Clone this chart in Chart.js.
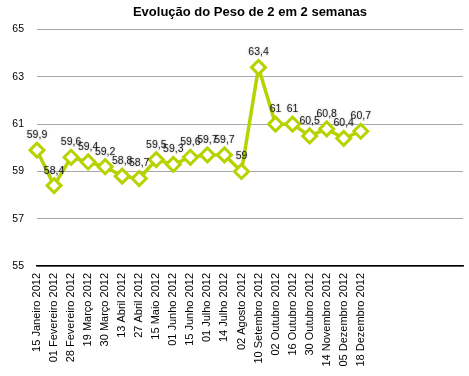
<!DOCTYPE html>
<html>
<head>
<meta charset="utf-8">
<script src="https://cdn.jsdelivr.net/npm/chart.js@4/dist/chart.umd.min.js"></script>
<style>
  html, body { margin: 0; padding: 0; background: #fff; }
  #wrap { width: 469px; height: 376px; }
</style>
</head>
<body>
<div id="wrap"><canvas id="chart" width="469" height="376"></canvas></div>
<script>
// datas das pesagens
const datas = [
  "15 Janeiro 2012", "01 Fevereiro 2012", "28 Fevereiro 2012", "19 Março 2012",
  "30 Março 2012", "13 Abril 2012", "27 Abril 2012", "15 Maio 2012",
  "01 Junho 2012", "15 Junho 2012", "01 Julho 2012", "14 Julho 2012",
  "02 Agosto 2012", "10 Setembro 2012", "02 Outubro 2012", "16 Outubro 2012",
  "30 Outubro 2012", "14 Novembro 2012", "05 Dezembro 2012", "18 Dezembro 2012"
];
// peso em kg
const pesos = [
  59.9, 58.4, 59.6, 59.4, 59.2, 58.8, 58.7, 59.5, 59.3, 59.6,
  59.7, 59.7, 59, 63.4, 61, 61, 60.5, 60.8, 60.4, 60.7
];
const yTicks = [55, 57, 59, 61, 63, 65];
const xSlots = 25; // o eixo continua vazio depois da última data

const pontos = pesos.map((p, i) => ({ x: i, y: p }));

// rótulos de valor em cima de cada ponto
const rotulosPlugin = {
  id: "rotulos",
  afterDatasetsDraw(chart) {
    const ctx = chart.ctx;
    const meta = chart.getDatasetMeta(0);
    ctx.save();
    ctx.font = "10.5px 'Liberation Sans', Arial, sans-serif";
    ctx.textAlign = "center";
    ctx.textBaseline = "middle";
    ctx.fillStyle = "#222";
    ctx.shadowColor = "rgba(0,0,0,0.35)";
    ctx.shadowBlur = 2;
    meta.data.forEach((pt, i) => {
      const txt = String(pesos[i]).replace(".", ",");
      ctx.fillText(txt, pt.x, pt.y - 15);
    });
    ctx.restore();
  },
};

new Chart(document.getElementById("chart"), {
  type: "line",
  data: {
    datasets: [
      {
        data: pontos,
        borderColor: "#b6d300",
        borderWidth: 3.5,
        pointStyle: "rectRot",
        pointRadius: 7,
        pointHoverRadius: 7,
        pointBorderWidth: 3,
        pointBackgroundColor: "#fff",
        pointBorderColor: "#b6d300",
        tension: 0,
        clip: false,
      },
    ],
  },
  options: {
    responsive: false,
    animation: false,
    events: [],
    layout: { autoPadding: false, padding: { left: 12, right: 6, top: 5, bottom: 0 } },
    plugins: {
      legend: { display: false },
      tooltip: { enabled: false },
      title: {
        display: true,
        fullSize: false,
        text: "Evolução do Peso de 2 em 2 semanas",
        color: "#000",
        font: { family: "'Liberation Sans', Arial, sans-serif", size: 13, weight: "bold" },
        padding: { top: 0, bottom: 9 },
      },
    },
    scales: {
      x: {
        type: "linear",
        min: 0,
        max: xSlots,
        grid: { display: false, drawTicks: false },
        border: { display: true, color: "#000", width: 1.5 },
        afterBuildTicks(scale) {
          scale.ticks = [];
          for (let i = 0; i <= xSlots; i++) scale.ticks.push({ value: i });
        },
        afterFit(scale) {
          scale.height = 110;
          scale.paddingLeft = 0;
          scale.paddingRight = 0;
        },
        ticks: {
          autoSkip: false,
          minRotation: 90,
          maxRotation: 90,
          padding: 7,
          color: "#000",
          font: { family: "'Liberation Sans', Arial, sans-serif", size: 11 },
          callback: (v) => datas[v] || "",
        },
      },
      y: {
        min: 55,
        max: 65,
        afterBuildTicks(scale) {
          scale.ticks = yTicks.map((v) => ({ value: v }));
        },
        afterFit(scale) {
          scale.width = 25;
          scale.paddingTop = 0;
          scale.paddingBottom = 0;
        },
        grid: { color: "#a8a8a8", lineWidth: 1, drawTicks: false },
        border: { display: false },
        ticks: {
          padding: 13,
          color: "#000",
          font: { family: "'Liberation Sans', Arial, sans-serif", size: 10.5 },
        },
      },
    },
  },
  plugins: [rotulosPlugin],
});
</script>
</body>
</html>
